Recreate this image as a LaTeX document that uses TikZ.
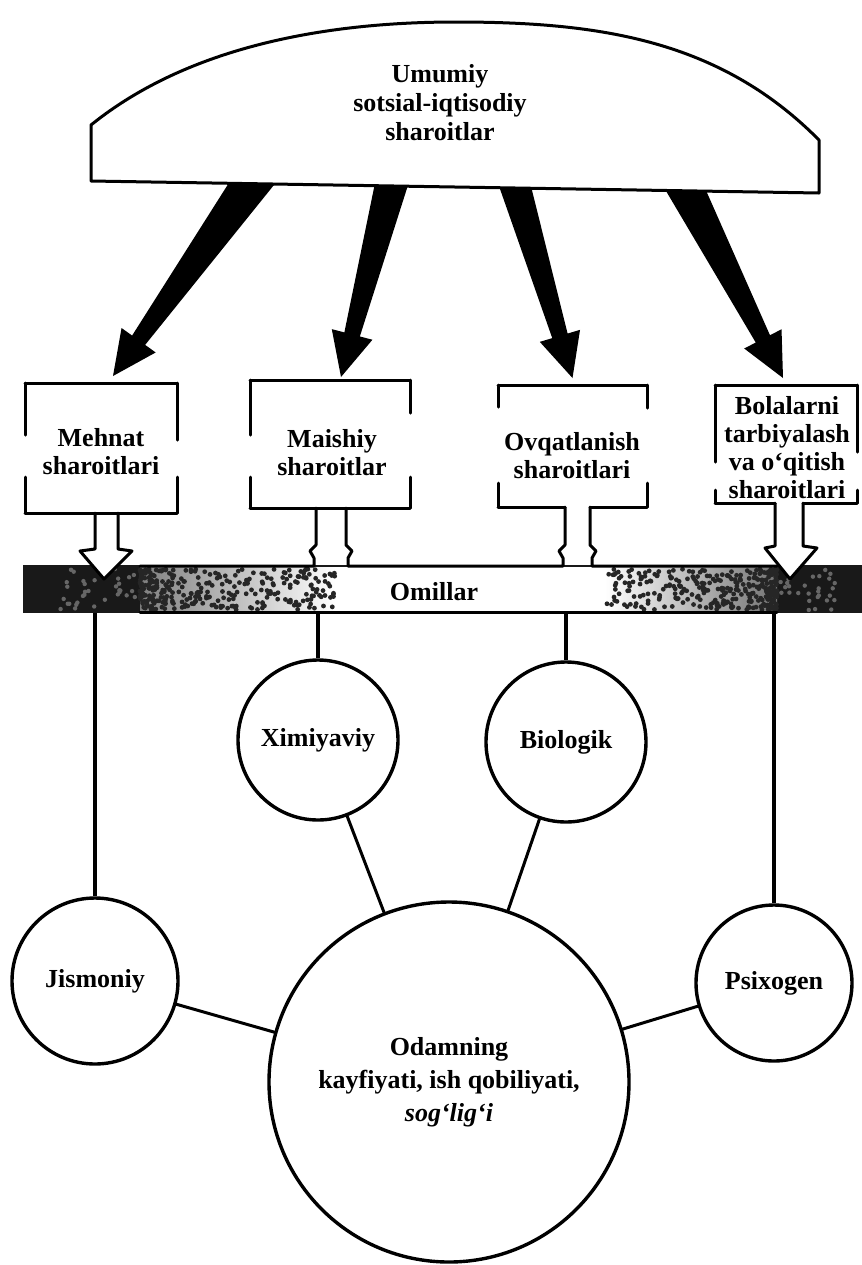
\documentclass[tikz,border=0pt]{standalone}
\usepackage{fontspec}
\setmainfont{Liberation Serif}
\usetikzlibrary{calc}
\newcommand{\wedgearrow}[3]{%
  \coordinate (wS) at (#1);
  \coordinate (wT) at (#2);
  \coordinate (wN) at ($(wT)!22pt!(wS)$);
  \fill[black] ($(wS)!#3!90:(wT)$) -- ($(wN)!4pt!90:(wT)$) -- ($(wN)!10.5pt!90:(wT)$) -- (wT)
     -- ($(wN)!10.5pt!-90:(wT)$) -- ($(wN)!4pt!-90:(wT)$) -- ($(wS)!#3!-90:(wT)$) -- cycle;
}
\begin{document}
\begin{tikzpicture}[x=0.5pt,y=-0.5pt,
  lbl/.style={font=\fontsize{13}{14}\selectfont\bfseries, align=center, inner sep=0pt},
  ln/.style={line width=1.5pt, line cap=round, line join=round},
  vl/.style={line width=1.8pt},
  circ/.style={circle, draw, line width=1.7pt, fill=white, inner sep=0pt,
     font=\fontsize{13}{16.5}\selectfont\bfseries, align=center},
  boxn/.style={rectangle, inner sep=0pt, outer sep=0pt},
]
\useasboundingbox (0,0) rectangle (862,1265);
\fill[white] (0,0) rectangle (862,1265);

% geometry nodes of the four boxes
\node[boxn, minimum width=76pt, minimum height=65pt] (b1) at (101,448) {};
\node[boxn, minimum width=80pt, minimum height=64pt] (b2) at (330,444) {};
\node[boxn, minimum width=74.5pt, minimum height=61pt] (b3) at (572.5,446) {};
\node[boxn, minimum width=71pt, minimum height=59pt] (b4) at (786,444) {};

% thick arrows from the dome
\coordinate (a1) at (262,168);
\coordinate (a2) at (395,170);
\coordinate (a3) at (511,172);
\coordinate (a4) at (678,174);
\wedgearrow{a1}{$(b1.north)+(12,-7)$}{10pt}
\wedgearrow{a2}{$(b2.north)+(11,-3)$}{8.5pt}
\wedgearrow{a3}{$(b3.north)+(0,-7)$}{8pt}
\wedgearrow{a4}{$(b4.north)+(-3,-7)$}{9.5pt}

% dome
\draw[ln, fill=white] (91,181) -- (91,125) .. controls (190,45) and (330,22) .. (456,22)
   .. controls (600,22) and (720,40) .. (819,140) -- (819,193) -- cycle;
\node[lbl, font=\fontsize{13}{14.5}\selectfont\bfseries] (dome) at (440,103) {Umumiy\\sotsial-iqtisodiy\\sharoitlar};

% factor bar
\node[boxn, minimum width=419.5pt, minimum height=24pt] (bar) at (442.5,589) {};
\fill[black!90] (bar.north west) rectangle (bar.south east);
\fill[white] (140,567) rectangle (777,612);
\shade[left color=black!50, right color=white] (140,567) rectangle (335,612);
\shade[left color=white, right color=black!55] (605,567) rectangle (777,612);
\pgfmathsetseed{4242}
\foreach \i in {1,...,320}{
  \pgfmathsetmacro{\px}{140+195*pow(rnd,1.7)}
  \pgfmathsetmacro{\py}{569+41*rnd}
  \fill[black!85] (\px,\py) circle[radius=1.2pt];
}
\foreach \i in {1,...,300}{
  \pgfmathsetmacro{\px}{777-172*pow(rnd,1.7)}
  \pgfmathsetmacro{\py}{569+41*rnd}
  \fill[black!85] (\px,\py) circle[radius=1.2pt];
}
\foreach \i in {1,...,35}{
  \pgfmathsetmacro{\px}{60+78*rnd}
  \pgfmathsetmacro{\py}{569+41*rnd}
  \fill[black!60] (\px,\py) circle[radius=1.1pt];
}
\foreach \i in {1,...,30}{
  \pgfmathsetmacro{\px}{780+60*rnd}
  \pgfmathsetmacro{\py}{569+41*rnd}
  \fill[black!60] (\px,\py) circle[radius=1.1pt];
}
\draw[ln] (140,612) -- (777,612);
\node[lbl] (om) at (434,592) {Omillar};

% hollow arrows and stems from the boxes into the bar
\draw[ln, fill=white] (95,0 |- b1.south) -- (95,549) -- (80,551) -- (104,579) -- (132,551) -- (118,549) -- (118,0 |- b1.south);
\draw[ln, fill=white] (775,0 |- b4.south) -- (775,546) -- (765,548) -- (790,579) -- (817,548) -- (803,546) -- (803,0 |- b4.south);
\draw[ln] (316,0 |- b2.south) -- (316,545) -- (310,551) -- (314,558) -- (314,566) -- (140,566);
\draw[ln] (346,0 |- b2.south) -- (346,545) -- (352,551) -- (348,558) -- (348,566) -- (563,566)
   -- (563,558) -- (559,551) -- (565,545) -- (565,0 |- b3.south);
\draw[ln] (590,0 |- b3.south) -- (590,545) -- (596,551) -- (592,558) -- (592,566) -- (777,566);

% box outlines
\draw[ln] (b1.north west) -- (b1.north east);
\draw[ln] (b1.south west) -- (b1.south east);
\draw[ln] (b1.north west) -- ++(0,52);
\draw[ln] (b1.south west) -- ++(0,-36);
\draw[ln] (b1.north east) -- ++(0,57);
\draw[ln] (b1.south east) -- ++(0,-36);

\draw[ln] (b2.north west) -- (b2.north east);
\draw[ln] (b2.south west) -- (b2.south east);
\draw[ln] (b2.north west) -- ++(0,55);
\draw[ln] (b2.south west) -- ++(0,-31);
\draw[ln] (b2.north east) -- ++(0,33);
\draw[ln] (b2.south east) -- ++(0,-31);

\draw[ln] (b3.north west) -- (b3.north east);
\draw[ln] (b3.north west) -- ++(0,22);
\draw[ln] (b3.south west) -- ++(0,-24);
\draw[ln] (b3.north east) -- ++(0,23);
\draw[ln] (b3.south east) -- ++(0,-24);
\draw[ln] (b3.south west) -- (565,0 |- b3.south);
\draw[ln] (590,0 |- b3.south) -- (b3.south east);

\draw[ln] (b4.north west) -- (b4.north east);
\draw[ln] (b4.north west) -- ++(0,77);
\draw[ln] (b4.south west) -- ++(0,-13);
\draw[ln] (b4.north east) -- ++(0,67);
\draw[ln] (b4.south east) -- ++(0,-13);
\draw[ln] (b4.south west) -- (775,0 |- b4.south);
\draw[ln] (803,0 |- b4.south) -- (b4.south east);

% box texts
\node[lbl] (t1) at (101,452) {Mehnat\\sharoitlari};
\node[lbl] (t2) at (332,453) {Maishiy\\sharoitlar};
\node[lbl] (t3) at (572,456) {Ovqatlanish\\sharoitlari};
\node[lbl] (t4) at (787,448) {Bolalarni\\tarbiyalash\\va o‘qitish\\sharoitlari};

% circles
\node[circ, minimum size=80pt] (xim) at (318,740) {Ximiyaviy};
\node[circ, minimum size=80pt] (bio) at (566,742) {Biologik};
\node[circ, minimum size=83pt] (jis) at (95,981) {Jismoniy};
\node[circ, minimum size=78pt] (psi) at (774,983) {Psixogen};
\node[circ, minimum size=180pt] (big) at (449,1082) {Odamning\\kayfiyati, ish qobiliyati,\\\textit{sog‘lig‘i}};

% connectors
\draw[vl] (jis.north |- bar.south) -- (jis.north);
\draw[vl] (xim.north |- bar.south) -- (xim.north);
\draw[vl] (bio.north |- bar.south) -- (bio.north);
\draw[vl] (psi.north |- bar.south) -- (psi.north);
\draw[ln] (xim) -- (big);
\draw[ln] (bio) -- (big);
\draw[ln] (jis) -- (big);
\draw[ln] (psi) -- (big);
\end{tikzpicture}
\end{document}
